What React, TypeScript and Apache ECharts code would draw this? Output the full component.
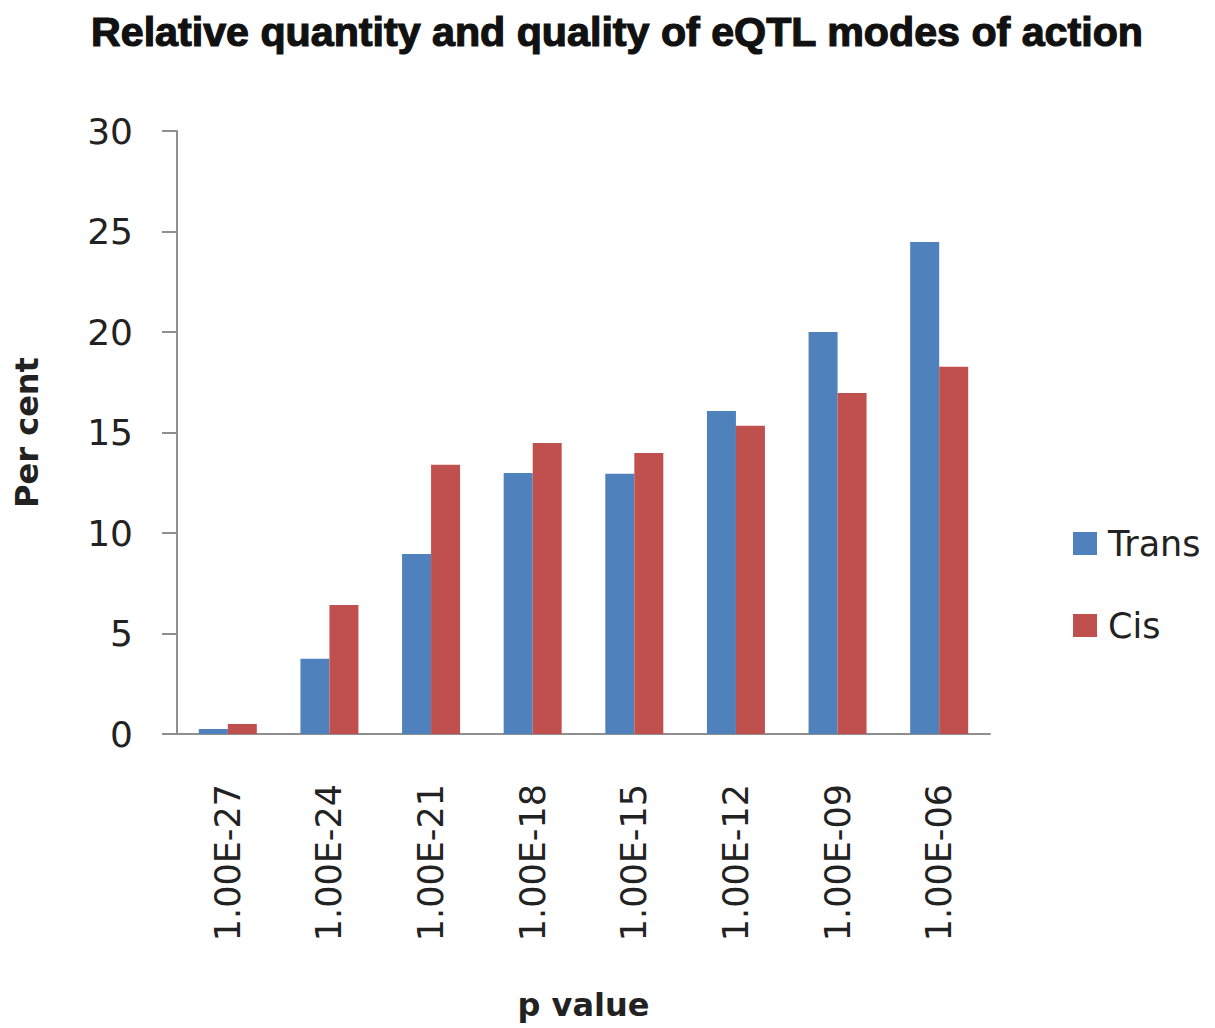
import React, { useEffect, useRef } from "react";
import * as echarts from "echarts";

const categories = ["1.00E-27", "1.00E-24", "1.00E-21", "1.00E-18", "1.00E-15", "1.00E-12", "1.00E-09", "1.00E-06"];
const transValues = [0.25, 3.75, 8.95, 12.98, 12.95, 16.07, 20.0, 24.48];
const cisValues = [0.5, 6.42, 13.4, 14.48, 13.98, 15.33, 16.97, 18.27];
const titleText = "Relative quantity and quality of eQTL modes of action";
const seriesNames = ["Trans", "Cis"];

export default function App() {
  const ref = useRef<HTMLDivElement>(null);
  useEffect(() => {
    if (!ref.current) return;
    const chart = echarts.init(ref.current, undefined, { renderer: "svg" });
    const font = "DejaVu Sans";
    chart.setOption({
      animation: false,
      backgroundColor: "#ffffff",
      graphic: [
        {
          type: "text",
          x: 617,
          y: 32,
          scaleX: 1.03,
          style: {
            text: titleText,
            font: "bold 40px 'Liberation Sans'",
            fill: "#111111",
            stroke: "#111111",
            lineWidth: 1.2,
            align: "center",
            verticalAlign: "middle",
          },
        },
      ],
      legend: {
        orient: "vertical",
        left: 1068,
        top: 521,
        itemWidth: 24,
        itemHeight: 23,
        itemGap: 47,
        icon: "rect",
        data: seriesNames,
        textStyle: { fontFamily: font, fontSize: 35, color: "#222", padding: [0, 0, 0, 6] },
      },
      grid: { left: 177, right: 225, top: 131, bottom: 294, containLabel: false },
      xAxis: {
        type: "category",
        data: categories,
        name: "p value",
        nameLocation: "middle",
        nameGap: 255,
        nameTextStyle: { fontFamily: font, fontSize: 32, fontWeight: "bold", color: "#222" },
        axisLine: { lineStyle: { color: "#8f8f8f", width: 2 } },
        axisTick: { show: false },
        axisLabel: { rotate: 90, margin: 50, fontFamily: font, fontSize: 35, color: "#222" },
      },
      yAxis: {
        type: "value",
        min: 0,
        max: 30,
        interval: 5,
        name: "Per cent",
        nameLocation: "middle",
        nameRotate: 90,
        nameGap: 134,
        nameTextStyle: { fontFamily: font, fontSize: 32, fontWeight: "bold", color: "#222" },
        axisLine: { show: true, lineStyle: { color: "#8f8f8f", width: 2 } },
        axisTick: { show: true, length: 15, lineStyle: { color: "#8f8f8f", width: 2 } },
        axisLabel: { margin: 44, fontFamily: font, fontSize: 36, color: "#222" },
        splitLine: { show: false },
      },
      series: [
        {
          name: seriesNames[0],
          type: "bar",
          data: transValues,
          barWidth: 29,
          barGap: "0%",
          itemStyle: { color: "#4F81BD" },
        },
        {
          name: seriesNames[1],
          type: "bar",
          data: cisValues,
          barWidth: 29,
          barGap: "0%",
          itemStyle: { color: "#C0504D" },
        },
      ],
    });
    return () => chart.dispose();
  }, []);
  return (
    <div
      ref={ref}
      style={{ position: "fixed", left: 0, top: 0, width: 1215, height: 1028 }}
    />
  );
}
